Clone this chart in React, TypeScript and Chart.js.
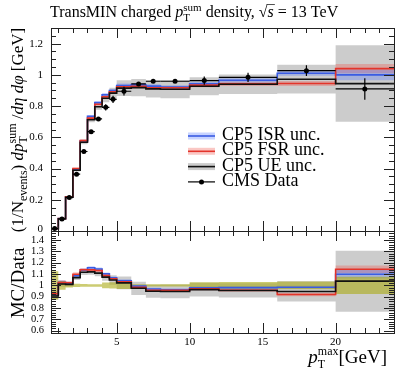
import React, { useEffect, useRef } from "react";
import { Chart, registerables } from "chart.js";
Chart.register(...registerables);

// ---------------- data ----------------
const binEdges = [0.5, 1, 1.5, 2, 2.5, 3, 3.5, 4, 4.5, 5, 6, 7, 8, 10, 12, 16, 20, 24];
const dataValues = [0.016, 0.077, 0.214, 0.364, 0.509, 0.636, 0.718, 0.792, 0.843, 0.895, 0.942, 0.959, 0.959, 0.963, 0.984, 1.027, 0.91];
const dataErrors = [0.002, 0.003, 0.004, 0.005, 0.006, 0.007, 0.008, 0.02, 0.023, 0.028, 0.01, 0.01, 0.01, 0.027, 0.03, 0.035, 0.069];
const ueValues = [0.0145, 0.078, 0.216, 0.389, 0.568, 0.712, 0.796, 0.85, 0.883, 0.915, 0.918, 0.91, 0.908, 0.927, 0.94, 0.972, 0.944];
const ueUnc = [0.0005, 0.002, 0.004, 0.008, 0.012, 0.016, 0.02, 0.025, 0.035, 0.05, 0.055, 0.055, 0.058, 0.058, 0.062, 0.092, 0.245];
const isrValues = [0.0147, 0.079, 0.218, 0.395, 0.578, 0.735, 0.822, 0.873, 0.9, 0.932, 0.936, 0.928, 0.922, 0.942, 0.965, 1.01, 1.0];
const isrUnc = [0.0004, 0.0015, 0.003, 0.005, 0.007, 0.008, 0.009, 0.01, 0.01, 0.012, 0.012, 0.012, 0.012, 0.013, 0.014, 0.016, 0.035];
const fsrValues = [0.0148, 0.079, 0.219, 0.4, 0.579, 0.723, 0.812, 0.86, 0.892, 0.924, 0.926, 0.917, 0.917, 0.934, 0.942, 0.945, 1.04];
const fsrUnc = [0.0004, 0.0015, 0.003, 0.006, 0.008, 0.009, 0.01, 0.011, 0.011, 0.012, 0.012, 0.012, 0.012, 0.013, 0.014, 0.016, 0.03];

const xTickValues = [5, 10, 15, 20];
const xTickLabels = ["5", "10", "15", "20"];
const yTickValues = [0, 0.2, 0.4, 0.6, 0.8, 1, 1.2];
const yTickLabels = ["0", "0.2", "0.4", "0.6", "0.8", "1", "1.2"];
const rTickValues = [0.6, 0.7, 0.8, 0.9, 1, 1.1, 1.2, 1.3, 1.4];
const rTickLabels = ["0.6", "0.7", "0.8", "0.9", "1", "1.1", "1.2", "1.3", "1.4"];
const legendLabels = ["CP5 ISR unc.", "CP5 FSR unc.", "CP5 UE unc.", "CMS Data"];

// ---------------- layout / style ----------------
const W = 407, H = 369;
const P = { left: 51, right: 394, top: 28, split: 231, bottom: 333 };
const X_RANGE = [0.5, 24];
const MAIN_RANGE = [0, 1.3];
const RATIO_RANGE = [0.58, 1.48];
const FONT = "'Liberation Serif', 'DejaVu Serif', serif";

const C = {
  blue: "#3a5ce3",
  blueBand: "rgba(70,110,255,0.30)",
  red: "#e3342a",
  redBand: "rgba(240,70,60,0.30)",
  black: "#111111",
  greyBand: "rgba(0,0,0,0.20)",
  yellowBand: "rgba(170,170,20,0.60)",
};

type Seg = { t?: string; size: number; italic?: boolean; sub?: string; sup?: string; subSize?: number; over?: boolean };

const fontOf = (size: number, italic?: boolean) => `${italic ? "italic " : ""}${size}px ${FONT}`;

function segWidth(ctx: CanvasRenderingContext2D, s: Seg) {
  if (s.sub !== undefined || s.sup !== undefined) {
    ctx.font = fontOf(s.subSize ?? s.size * 0.7);
    return Math.max(ctx.measureText(s.sub ?? "").width, ctx.measureText(s.sup ?? "").width);
  }
  ctx.font = fontOf(s.size, s.italic);
  return ctx.measureText(s.t ?? "").width;
}
const richWidth = (ctx: CanvasRenderingContext2D, segs: Seg[]) => segs.reduce((a, s) => a + segWidth(ctx, s), 0);

function drawRich(ctx: CanvasRenderingContext2D, segs: Seg[], x: number, y: number) {
  ctx.textAlign = "left";
  ctx.textBaseline = "alphabetic";
  let cx = x;
  for (const s of segs) {
    const w = segWidth(ctx, s);
    if (s.sub !== undefined || s.sup !== undefined) {
      ctx.font = fontOf(s.subSize ?? s.size * 0.7);
      if (s.sup) ctx.fillText(s.sup, cx, y - s.size * 0.4);
      if (s.sub) ctx.fillText(s.sub, cx, y + s.size * 0.25);
    } else {
      ctx.font = fontOf(s.size, s.italic);
      ctx.fillText(s.t ?? "", cx, y);
      if (s.over) {
        ctx.beginPath();
        ctx.lineWidth = 0.8;
        ctx.moveTo(cx - 1, y - s.size * 0.78);
        ctx.lineTo(cx + w + 1, y - s.size * 0.78);
        ctx.stroke();
      }
    }
    cx += w;
  }
}

const N = dataValues.length;
const steps = (vals: number[]) => [
  ...vals.map((v, i) => ({ x: binEdges[i], y: v })),
  { x: binEdges[N], y: vals[N - 1] },
];
const shift = (a: number[], b: number[], s: number) => a.map((v, i) => v + s * b[i]);
const ratio = (a: number[]) => a.map((v, i) => v / dataValues[i]);

const mainClip = { left: 0, right: 0, top: 0, bottom: -(P.bottom - P.split) };
const ratioClip = { left: 0, right: 0, bottom: 0, top: -(P.split - P.top) };

function band(upper: number[], lower: number[], color: string, axis: string, order: number, clip: any) {
  return [
    { data: steps(upper), fill: "+1", backgroundColor: color, borderColor: "rgba(0,0,0,0)", borderWidth: 1, pointRadius: 0, stepped: true, yAxisID: axis, order, clip },
    { data: steps(lower), fill: false, borderColor: "rgba(0,0,0,0)", borderWidth: 1, pointRadius: 0, stepped: true, yAxisID: axis, order, clip },
  ];
}
function line(vals: number[], color: string, axis: string, order: number, clip: any) {
  return { data: steps(vals), fill: false, borderColor: color, borderWidth: 1.6, pointRadius: 0, stepped: true, yAxisID: axis, order, clip };
}

const rivetPlugin = {
  id: "rivet",
  afterDatasetsDraw(chart: any) {
    const ctx: CanvasRenderingContext2D = chart.ctx;
    const xs = chart.scales.x, ys = chart.scales.y;
    ctx.save();
    ctx.strokeStyle = "#000";
    ctx.lineWidth = 1.2;
    for (let i = 0; i < N; i++) {
      const x0 = xs.getPixelForValue(binEdges[i]);
      const x1 = xs.getPixelForValue(binEdges[i + 1]);
      const xc = xs.getPixelForValue((binEdges[i] + binEdges[i + 1]) / 2);
      const yc = ys.getPixelForValue(dataValues[i]);
      const yl = ys.getPixelForValue(dataValues[i] - dataErrors[i]);
      const yh = ys.getPixelForValue(dataValues[i] + dataErrors[i]);
      ctx.beginPath();
      ctx.moveTo(x0, yc); ctx.lineTo(x1, yc);
      ctx.moveTo(xc, yl); ctx.lineTo(xc, yh);
      ctx.stroke();
    }
    ctx.restore();
  },
  afterDraw(chart: any) {
    const ctx: CanvasRenderingContext2D = chart.ctx;
    const xs = chart.scales.x, ys = chart.scales.y, rs = chart.scales.yr;
    const px = (v: number) => Math.round(v) + 0.5;
    ctx.save();
    ctx.strokeStyle = "#222";
    ctx.fillStyle = "#000";
    ctx.lineWidth = 1;
    // frames
    ctx.strokeRect(px(P.left), px(P.top), P.right - P.left, P.split - P.top);
    ctx.strokeRect(px(P.left), px(P.split), P.right - P.left, P.bottom - P.split);
    // x ticks
    ctx.beginPath();
    for (let v = 1; v <= 24; v++) {
      const x = px(xs.getPixelForValue(v));
      if (x <= P.left + 1 || x >= P.right - 1) continue;
      const len = v % 5 === 0 ? 10 : 5;
      for (const [t, b] of [[P.top, P.split], [P.split, P.bottom]]) {
        ctx.moveTo(x, t); ctx.lineTo(x, t + len);
        ctx.moveTo(x, b); ctx.lineTo(x, b - len);
      }
    }
    // main y ticks
    for (let k = 0; k <= 26; k++) {
      const v = k * 0.05;
      const y = px(ys.getPixelForValue(v));
      if (y < P.top + 1 || y > P.split) continue;
      const len = k % 4 === 0 ? 10 : 5;
      ctx.moveTo(P.left, y); ctx.lineTo(P.left + len, y);
      ctx.moveTo(P.right, y); ctx.lineTo(P.right - len, y);
    }
    // ratio y ticks
    for (let k = 29; k <= 74; k++) {
      const v = k * 0.02;
      const y = px(rs.getPixelForValue(v));
      if (y < P.split + 1 || y > P.bottom - 1) continue;
      const len = k % 5 === 0 ? 10 : 5;
      ctx.moveTo(P.left, y); ctx.lineTo(P.left + len, y);
      ctx.moveTo(P.right, y); ctx.lineTo(P.right - len, y);
    }
    ctx.stroke();

    // tick labels
    ctx.font = fontOf(11);
    ctx.textAlign = "right";
    ctx.textBaseline = "middle";
    yTickValues.forEach((v, i) => ctx.fillText(yTickLabels[i], 43, ys.getPixelForValue(v) - (v === 0 ? 2 : 0)));
    ctx.font = fontOf(10.5);
    rTickValues.forEach((v, i) => ctx.fillText(rTickLabels[i], 44, rs.getPixelForValue(v)));
    ctx.font = fontOf(11);
    ctx.textAlign = "center";
    xTickValues.forEach((v, i) => ctx.fillText(xTickLabels[i], xs.getPixelForValue(v), 342));

    // title
    const title: Seg[] = [
      { t: "TransMIN charged ", size: 16 },
      { t: "p", size: 16, italic: true },
      { sub: "T", sup: "sum", size: 16, subSize: 11 },
      { t: " density, ", size: 16 },
      { t: "√", size: 16 },
      { t: "s", size: 16, italic: true, over: true },
      { t: " = 13 TeV", size: 16 },
    ];
    drawRich(ctx, title, 50, 17);

    // x label
    const xl: Seg[] = [
      { t: "p", size: 19, italic: true },
      { sub: "T", sup: "max", size: 19, subSize: 12 },
      { t: "[GeV]", size: 19 },
    ];
    drawRich(ctx, xl, 387 - richWidth(ctx, xl), 363);

    // y label (main)
    const yl: Seg[] = [
      { t: "(1/N", size: 17 },
      { sub: "events", size: 17, subSize: 12 },
      { t: ") ", size: 17 },
      { t: "dp", size: 17, italic: true },
      { sub: "T", sup: "sum", size: 17, subSize: 12 },
      { t: " /", size: 17 },
      { t: "dη dφ", size: 17, italic: true },
      { t: " [GeV]", size: 17 },
    ];
    ctx.save();
    ctx.translate(23, 130);
    ctx.rotate(-Math.PI / 2);
    drawRich(ctx, yl, -richWidth(ctx, yl) / 2, 0);
    ctx.restore();

    const rl: Seg[] = [{ t: "MC/Data", size: 19 }];
    ctx.save();
    ctx.translate(24, 283);
    ctx.rotate(-Math.PI / 2);
    drawRich(ctx, rl, -richWidth(ctx, rl) / 2, 0);
    ctx.restore();

    // legend
    const lx0 = 188, lx1 = 215, tx = 222;
    const legendStyle = [
      { line: C.blue, band: C.blueBand },
      { line: C.red, band: C.redBand },
      { line: C.black, band: C.greyBand },
      { line: "#000", band: null as string | null },
    ];
    legendStyle.forEach((st, i) => {
      const y = 136 + i * 15.3;
      if (st.band) {
        ctx.fillStyle = st.band;
        ctx.fillRect(lx0, y - 3.5, lx1 - lx0, 7);
      }
      ctx.strokeStyle = st.line;
      ctx.lineWidth = i === 3 ? 1.2 : 1.6;
      ctx.beginPath();
      ctx.moveTo(lx0, y); ctx.lineTo(lx1, y);
      ctx.stroke();
      if (i === 3) {
        ctx.fillStyle = "#000";
        ctx.beginPath();
        ctx.arc((lx0 + lx1) / 2, y, 2.5, 0, Math.PI * 2);
        ctx.fill();
      }
      ctx.fillStyle = "#000";
      drawRich(ctx, [{ t: legendLabels[i], size: 18 }], tx, y + 4);
    });
    ctx.restore();
  },
};

export default function App() {
  const ref = useRef<HTMLCanvasElement | null>(null);
  useEffect(() => {
    const canvas = ref.current!;
    const mainSpan = (MAIN_RANGE[1] - MAIN_RANGE[0]) / (P.split - P.top);
    const ratioSpan = (RATIO_RANGE[1] - RATIO_RANGE[0]) / (P.bottom - P.split);
    const yMin = MAIN_RANGE[0] - (P.bottom - P.split) * mainSpan;
    const rMax = RATIO_RANGE[1] + (P.split - P.top) * ratioSpan;

    const dataBandHi = dataValues.map((v, i) => 1 + dataErrors[i] / v);
    const dataBandLo = dataValues.map((v, i) => 1 - dataErrors[i] / v);

    const datasets: any[] = [
      // main panel
      ...band(shift(ueValues, ueUnc, 1), shift(ueValues, ueUnc, -1), C.greyBand, "y", 10, mainClip),
      ...band(shift(fsrValues, fsrUnc, 1), shift(fsrValues, fsrUnc, -1), C.redBand, "y", 9, mainClip),
      ...band(shift(isrValues, isrUnc, 1), shift(isrValues, isrUnc, -1), C.blueBand, "y", 8, mainClip),
      line(isrValues, C.blue, "y", 5, mainClip),
      line(fsrValues, C.red, "y", 4, mainClip),
      line(ueValues, C.black, "y", 3, mainClip),
      {
        data: dataValues.map((v, i) => ({ x: (binEdges[i] + binEdges[i + 1]) / 2, y: v })),
        showLine: false, pointRadius: 2.5, pointBackgroundColor: "#000", pointBorderColor: "#000",
        pointBorderWidth: 0, yAxisID: "y", order: 0,
      },
      // ratio panel
      ...band(ratio(shift(ueValues, ueUnc, 1)), ratio(shift(ueValues, ueUnc, -1)), C.greyBand, "yr", 10, ratioClip),
      ...band(ratio(shift(fsrValues, fsrUnc, 1)), ratio(shift(fsrValues, fsrUnc, -1)), C.redBand, "yr", 9, ratioClip),
      ...band(ratio(shift(isrValues, isrUnc, 1)), ratio(shift(isrValues, isrUnc, -1)), C.blueBand, "yr", 8, ratioClip),
      ...band(dataBandHi, dataBandLo, C.yellowBand, "yr", 7, ratioClip),
      line(ratio(isrValues), C.blue, "yr", 5, ratioClip),
      line(ratio(fsrValues), C.red, "yr", 4, ratioClip),
      line(ratio(ueValues), C.black, "yr", 3, ratioClip),
    ];

    const chart = new Chart(canvas, {
      type: "line",
      data: { datasets },
      options: {
        animation: false,
        responsive: false,
        devicePixelRatio: 1,
        events: [],
        layout: { padding: { left: P.left, right: W - P.right, top: P.top, bottom: H - P.bottom } },
        plugins: { legend: { display: false }, tooltip: { enabled: false }, title: { display: false } },
        scales: {
          x: { type: "linear", min: X_RANGE[0], max: X_RANGE[1], display: false },
          y: { type: "linear", min: yMin, max: MAIN_RANGE[1], display: false },
          yr: { type: "linear", min: RATIO_RANGE[0], max: rMax, display: false },
        },
      } as any,
      plugins: [rivetPlugin],
    });
    return () => chart.destroy();
  }, []);
  return (
    <div style={{ position: "absolute", left: 0, top: 0, width: W, height: H, background: "#fff" }}>
      <canvas ref={ref} width={W} height={H} style={{ width: W, height: H, display: "block" }} />
    </div>
  );
}
